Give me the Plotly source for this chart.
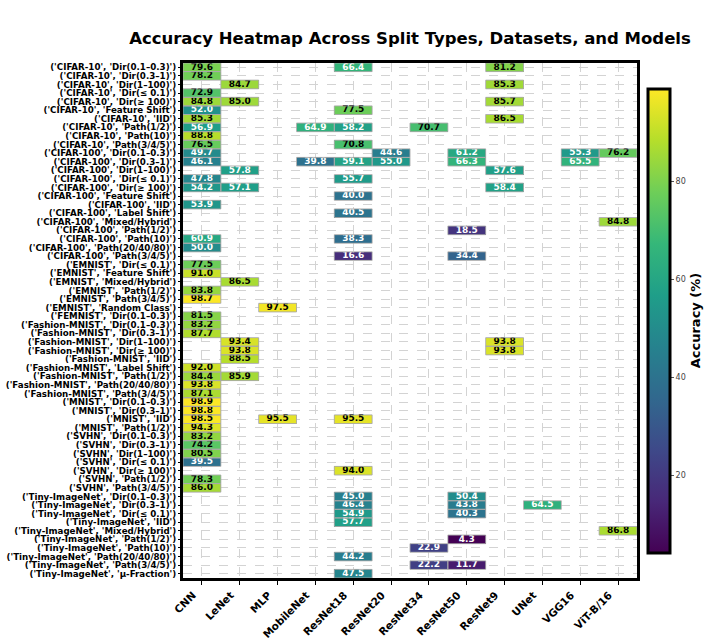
import plotly.graph_objects as go

models = ["CNN", "LeNet", "MLP", "MobileNet", "ResNet18", "ResNet20", "ResNet34",
          "ResNet50", "ResNet9", "UNet", "VGG16", "ViT-B/16"]

row_datasets = (["CIFAR-10"] * 10 + ["CIFAR-100"] * 13 + ["EMNIST"] * 6 + ["FEMNIST"] +
                ["Fashion-MNIST"] * 9 + ["MNIST"] * 4 + ["SVHN"] * 7 + ["Tiny-ImageNet"] * 10)
row_splits = [
    "Dir(0.1–0.3)", "Dir(0.3–1)", "Dir(1–100)", "Dir(≤ 0.1)", "Dir(≥ 100)", "Feature Shift", "IID",
    "Path(1/2)", "Path(10)", "Path(3/4/5)",
    "Dir(0.1–0.3)", "Dir(0.3–1)", "Dir(1–100)", "Dir(≤ 0.1)", "Dir(≥ 100)", "Feature Shift", "IID",
    "Label Shift", "Mixed/Hybrid", "Path(1/2)", "Path(10)", "Path(20/40/80)", "Path(3/4/5)",
    "Dir(≤ 0.1)", "Feature Shift", "Mixed/Hybrid", "Path(1/2)", "Path(3/4/5)", "Random Class",
    "Dir(0.1–0.3)",
    "Dir(0.1–0.3)", "Dir(0.3–1)", "Dir(1–100)", "Dir(≥ 100)", "IID", "Label Shift", "Path(1/2)",
    "Path(20/40/80)", "Path(3/4/5)",
    "Dir(0.1–0.3)", "Dir(0.3–1)", "IID", "Path(1/2)",
    "Dir(0.1–0.3)", "Dir(0.3–1)", "Dir(1–100)", "Dir(≤ 0.1)", "Dir(≥ 100)", "Path(1/2)", "Path(3/4/5)",
    "Dir(0.1–0.3)", "Dir(0.3–1)", "Dir(≤ 0.1)", "IID", "Mixed/Hybrid", "Path(1/2)", "Path(10)",
    "Path(20/40/80)", "Path(3/4/5)", "μ-Fraction",
]

cell_row = [0, 0, 0, 1, 2, 2, 3, 4, 4, 4, 5, 5, 6, 6, 7, 7, 7, 7, 8, 9, 9,
            10, 10, 10, 10, 10, 11, 11, 11, 11, 11, 11, 12, 12, 13, 13, 14, 14, 14,
            15, 16, 17, 18, 19, 20, 20, 21, 22, 22,
            23, 24, 25, 26, 27, 28, 29, 30, 31, 32, 32, 33, 33, 34, 35, 36, 36, 37, 38,
            39, 40, 41, 41, 41, 42, 43, 44, 45, 46, 47, 48, 49,
            50, 50, 51, 51, 51, 52, 52, 53, 54, 55, 56, 57, 58, 58, 59]
cell_model = ["CNN", "ResNet18", "ResNet9", "CNN", "LeNet", "ResNet9", "CNN", "CNN", "LeNet", "ResNet9",
              "CNN", "ResNet18", "CNN", "ResNet9", "CNN", "MobileNet", "ResNet18", "ResNet34", "CNN",
              "CNN", "ResNet18",
              "CNN", "ResNet20", "ResNet50", "VGG16", "ViT-B/16",
              "CNN", "MobileNet", "ResNet18", "ResNet20", "ResNet50", "VGG16",
              "LeNet", "ResNet9", "CNN", "ResNet18", "CNN", "LeNet", "ResNet9",
              "ResNet18", "CNN", "ResNet18", "ViT-B/16", "ResNet50", "CNN", "ResNet18", "CNN",
              "ResNet18", "ResNet50",
              "CNN", "CNN", "LeNet", "CNN", "CNN", "MLP", "CNN", "CNN", "CNN", "LeNet", "ResNet9",
              "LeNet", "ResNet9", "LeNet", "CNN", "CNN", "LeNet", "CNN", "CNN",
              "CNN", "CNN", "CNN", "MLP", "ResNet18", "CNN", "CNN", "CNN", "CNN", "CNN", "ResNet18",
              "CNN", "CNN",
              "ResNet18", "ResNet50", "ResNet18", "ResNet50", "UNet", "ResNet18", "ResNet50",
              "ResNet18", "ViT-B/16", "ResNet50", "ResNet34", "ResNet18", "ResNet34", "ResNet50",
              "ResNet18"]
cell_value = [79.6, 66.4, 81.2, 78.2, 84.7, 85.3, 72.9, 84.8, 85.0, 85.7, 52.0, 77.5, 85.3, 86.5,
              56.9, 64.9, 58.2, 70.7, 88.8, 76.5, 70.8,
              49.7, 44.6, 61.2, 55.3, 76.2, 46.1, 39.8, 59.1, 55.0, 66.3, 65.5,
              57.8, 57.6, 47.8, 55.7, 54.2, 57.1, 58.4,
              40.0, 53.9, 40.5, 84.8, 18.5, 60.9, 38.3, 50.0, 16.6, 34.4,
              77.5, 91.0, 86.5, 83.8, 98.7, 97.5, 81.5, 83.2, 87.7, 93.4, 93.8, 93.8, 93.8, 88.5,
              92.0, 84.4, 85.9, 93.8, 87.1,
              98.9, 98.8, 98.5, 95.5, 95.5, 94.3, 83.2, 74.2, 80.5, 39.5, 94.0, 78.3, 86.0,
              45.0, 50.4, 46.4, 43.8, 64.5, 54.9, 40.3, 57.7, 86.8, 4.3, 22.9, 44.2, 22.2, 11.7,
              47.5]

row_labels = [f"('{d}', '{s}')" for d, s in zip(row_datasets, row_splits)]

z = [[None] * len(models) for _ in row_labels]
for r, m, v in zip(cell_row, cell_model, cell_value):
    z[r][models.index(m)] = v

zmin, zmax = min(cell_value), max(cell_value)
FONT = "DejaVu Sans"

fig = go.Figure()
fig.add_trace(go.Heatmap(
    z=z, x=models, y=row_labels, colorscale="Viridis", zmin=zmin, zmax=zmax,
    hoverongaps=False,
    colorbar=dict(
        x=1.024, xanchor="left", xref="paper", y=0.5, yanchor="middle", xpad=0, ypad=0,
        len=0.9, lenmode="fraction", thickness=22, thicknessmode="pixels",
        outlinewidth=3, outlinecolor="black",
        tickvals=[20, 40, 60, 80], ticks="outside", ticklen=3, tickcolor="#555",
        tickfont=dict(size=8, color="#444", family=FONT),
        title=dict(text="<b>Accuracy (%)</b>", side="right", font=dict(size=13, family=FONT, color="black")),
    ),
))

text_colors = ["black" if v > 68 else "white" for v in cell_value]
fig.add_trace(go.Scatter(
    x=cell_model, y=[row_labels[r] for r in cell_row], mode="text",
    text=[f"{v:.1f}" for v in cell_value],
    textfont=dict(size=9, family=FONT, color=text_colors, weight="bold"),
    hoverinfo="skip", showlegend=False,
))

shapes = []
for r, m in zip(cell_row, cell_model):
    c = models.index(m)
    shapes.append(dict(type="rect", xref="x", yref="y", x0=c - 0.5, x1=c + 0.5, y0=r - 0.5, y1=r + 0.5,
                       line=dict(color="rgba(170,170,170,0.9)", width=1), layer="above"))

fig.update_layout(
    width=705, height=640,
    margin=dict(l=183, r=68, t=63, b=62, autoexpand=False),
    plot_bgcolor="white", paper_bgcolor="white",
    font=dict(family=FONT, color="black"),
    shapes=shapes,
    title=dict(text="<b>Accuracy Heatmap Across Split Types, Datasets, and Models</b>",
               x=0.5, xref="paper", xanchor="center", y=1 - 38 / 640, yref="container",
               yanchor="middle", font=dict(size=16.5, family=FONT, color="black")),
    xaxis=dict(
        type="category", tickangle=-45, tickfont=dict(size=10.5, family=FONT, weight="bold"),
        range=[-0.5, len(models) - 0.5], autorange=False, ticklabelshift=-9,
        showgrid=True, gridcolor="#d3d3d3", griddash="dash", gridwidth=1,
        showline=True, linewidth=3, linecolor="black", mirror=True, automargin=False,
        ticks="outside", ticklen=4, tickcolor="black", zeroline=False,
    ),
    yaxis=dict(
        type="category", range=[len(row_labels) - 0.5, -0.5], autorange=False,
        tickmode="array", tickvals=row_labels,
        tickfont=dict(size=8.7, family=FONT, weight="bold"), automargin=False,
        showgrid=True, gridcolor="#d3d3d3", griddash="dash", gridwidth=1,
        showline=True, linewidth=3, linecolor="black", mirror=True,
        ticks="outside", ticklen=2, tickcolor="black", zeroline=False,
    ),
)

fig.write_html("out.html")
